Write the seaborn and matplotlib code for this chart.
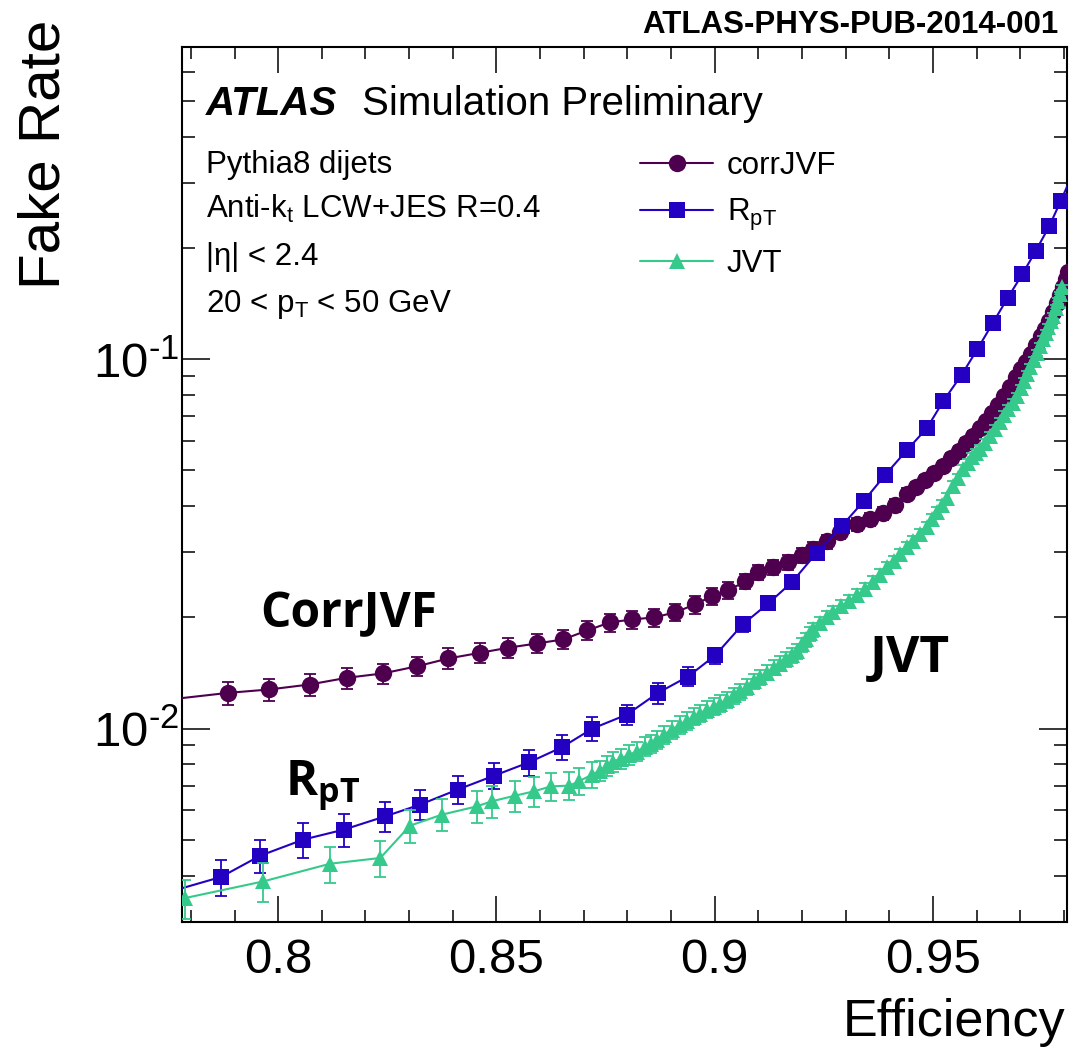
import matplotlib
matplotlib.use("Agg")
import matplotlib.pyplot as plt
from matplotlib.ticker import (FixedLocator, FixedFormatter, MultipleLocator,
                               LogLocator, NullFormatter, FuncFormatter)
import numpy as np
import pandas as pd
import seaborn as sns

# corrJVF working points
corr_eff = [0.7755, 0.7885, 0.7980, 0.8072, 0.8157, 0.8240, 0.8319, 0.8390, 0.8463, 0.8527,
            0.8593, 0.8653, 0.8708, 0.8760, 0.8811, 0.8861, 0.8909, 0.8955, 0.8993, 0.9031,
            0.9070, 0.9100, 0.9134, 0.9168, 0.9200, 0.9226, 0.9257, 0.9287, 0.9325, 0.9356,
            0.9386, 0.9413, 0.9441, 0.9461, 0.9482, 0.9503, 0.9523, 0.9541, 0.9560, 0.9576,
            0.9592, 0.9608, 0.9622, 0.9635, 0.9649, 0.9663, 0.9677, 0.9690, 0.9702, 0.9713,
            0.9725, 0.9736, 0.9748, 0.9757, 0.9766, 0.9775, 0.9784, 0.9791, 0.9798, 0.9805,
            0.9809]
corr_fake = [0.01200, 0.01249, 0.01276, 0.01316, 0.01372, 0.01410, 0.01475, 0.01548, 0.01604, 0.01655,
             0.01700, 0.01743, 0.01843, 0.01938, 0.01974, 0.01999, 0.02062, 0.02168, 0.02279, 0.02366,
             0.02502, 0.02647, 0.02731, 0.02818, 0.02943, 0.03056, 0.03212, 0.03398, 0.03571, 0.03685,
             0.03826, 0.04021, 0.04306, 0.04499, 0.04700, 0.04911, 0.05129, 0.05391, 0.05632, 0.05920,
             0.06184, 0.06501, 0.06792, 0.07140, 0.07504, 0.07937, 0.08397, 0.08938, 0.09395, 0.09815,
             0.1032, 0.1091, 0.1154, 0.1206, 0.1268, 0.1341, 0.1418, 0.1491, 0.1567, 0.1647,
             0.1721]
corr_err = [0.0009, 0.0009, 0.0009, 0.0009, 0.0009, 0.0009, 0.0009, 0.0010, 0.0010, 0.0010,
            0.0010, 0.0010, 0.0011, 0.0011, 0.0011, 0.0011, 0.0011, 0.0012, 0.0012, 0.0012,
            0.0012, 0.0013, 0.0013, 0.0013, 0.0013, 0.0014, 0.0014, 0.0014, 0.0015, 0.0015,
            0.0015, 0.0016, 0.0016, 0.0016, 0.0017, 0.0017, 0.0017, 0.0018, 0.0018, 0.0018,
            0.0019, 0.0019, 0.0020, 0.0020, 0.0021, 0.0021, 0.0022, 0.0023, 0.0023, 0.0024,
            0.0025, 0.0025, 0.0026, 0.0027, 0.0027, 0.0028, 0.0029, 0.0030, 0.0030, 0.0031,
            0.0032]

# R_pT working points
rpt_eff = [0.7753, 0.7869, 0.7959, 0.8057, 0.8150, 0.8245, 0.8325, 0.8411, 0.8495, 0.8575,
           0.8650, 0.8720, 0.8799, 0.8870, 0.8939, 0.9001, 0.9064, 0.9123, 0.9177, 0.9234,
           0.9291, 0.9341, 0.9390, 0.9440, 0.9486, 0.9524, 0.9566, 0.9602, 0.9637, 0.9671,
           0.9705, 0.9736, 0.9767, 0.9793, 0.9828]
rpt_fake = [0.00362, 0.003964, 0.004527, 0.005003, 0.005324, 0.005784, 0.006223, 0.006834, 0.007457, 0.008104,
            0.008899, 0.01000, 0.01091, 0.01249, 0.01383, 0.01577, 0.01913, 0.02182, 0.02491, 0.02993,
            0.03533, 0.04123, 0.04850, 0.05667, 0.06501, 0.07709, 0.09078, 0.1065, 0.1252, 0.1463,
            0.1700, 0.1968, 0.2297, 0.2685, 0.3334]
rpt_err = [0.00043, 0.00044, 0.00047, 0.00055, 0.00055, 0.00054, 0.00058, 0.00059, 0.00060, 0.00066,
           0.00069, 0.00073, 0.00068, 0.00081, 0.00083, 0.00080, 0.0009, 0.0009, 0.0010, 0.0010,
           0.0011, 0.0012, 0.0013, 0.0014, 0.0015, 0.0016, 0.0018, 0.0020, 0.0022, 0.0024,
           0.0026, 0.0028, 0.0030, 0.0032, 0.0034]

# JVT working points
jvt_eff = [0.7787, 0.7966, 0.8119, 0.8234, 0.8302, 0.8375, 0.8455, 0.8489, 0.8543, 0.8586,
           0.8625, 0.8667, 0.8689, 0.8719, 0.8737, 0.8753, 0.8767, 0.8785, 0.8804, 0.8822,
           0.8840, 0.8854, 0.8868, 0.8884, 0.8902, 0.8921, 0.8937, 0.8953, 0.8966, 0.8982,
           0.8998, 0.9012, 0.9028, 0.9044, 0.9058, 0.9074, 0.9090, 0.9104, 0.9120, 0.9136,
           0.9150, 0.9163, 0.9177, 0.9189, 0.9200, 0.9209, 0.9218, 0.9225, 0.9241, 0.9257,
           0.9271, 0.9289, 0.9308, 0.9326, 0.9344, 0.9362, 0.9379, 0.9395, 0.9411, 0.9424,
           0.9440, 0.9454, 0.9470, 0.9486, 0.9498, 0.9509, 0.9521, 0.9532, 0.9546, 0.9557,
           0.9569, 0.9580, 0.9589, 0.9598, 0.9608, 0.9619, 0.9630, 0.9642, 0.9653, 0.9662,
           0.9672, 0.9683, 0.9692, 0.9701, 0.9708, 0.9715, 0.9722, 0.9731, 0.9738, 0.9745,
           0.9752, 0.9759, 0.9763, 0.9770, 0.9775, 0.9782, 0.9786, 0.9791, 0.9795]
jvt_fake = [0.003477, 0.003857, 0.004306, 0.004463, 0.005459, 0.005846, 0.006156, 0.006353, 0.006582, 0.006761,
            0.006975, 0.007005, 0.007196, 0.007504, 0.007695, 0.007937, 0.008139, 0.008293, 0.008502, 0.008665,
            0.008938, 0.009107, 0.009338, 0.009632, 0.009938, 0.01025, 0.01051, 0.01078, 0.01098, 0.01126,
            0.01147, 0.01169, 0.01198, 0.01229, 0.01260, 0.01299, 0.01341, 0.01375, 0.01418, 0.01463,
            0.01500, 0.01538, 0.01577, 0.01617, 0.01689, 0.01743, 0.01809, 0.01855, 0.01926, 0.01999,
            0.02062, 0.02141, 0.02209, 0.02293, 0.02381, 0.02487, 0.02598, 0.02731, 0.02836, 0.02961,
            0.03094, 0.03212, 0.03356, 0.03505, 0.03685, 0.03850, 0.04021, 0.04200, 0.04527, 0.04759,
            0.05034, 0.05226, 0.05425, 0.05563, 0.05703, 0.05920, 0.06184, 0.06461, 0.06750, 0.07050,
            0.07320, 0.07599, 0.07937, 0.08345, 0.08717, 0.09107, 0.09513, 0.09938, 0.1038, 0.1084,
            0.1133, 0.1176, 0.1221, 0.1268, 0.1308, 0.1375, 0.1437, 0.1500, 0.1567]
jvt_err = [0.00042, 0.00046, 0.00048, 0.00049, 0.00057, 0.00058, 0.00060, 0.00062, 0.00063, 0.00062,
           0.00061, 0.00060, 0.00060, 0.00060, 0.00048, 0.00049, 0.00050, 0.00050, 0.00051, 0.00051,
           0.00052, 0.00052, 0.00053, 0.00054, 0.00055, 0.00056, 0.00057, 0.00058, 0.00058, 0.00059,
           0.00060, 0.00060, 0.00061, 0.00062, 0.00063, 0.00064, 0.00065, 0.00066, 0.00067, 0.00068,
           0.00069, 0.00070, 0.00071, 0.00072, 0.00074, 0.00076, 0.00078, 0.00080, 0.00082, 0.00084,
           0.00086, 0.00088, 0.00090, 0.00092, 0.00094, 0.00096, 0.00098, 0.0010, 0.0010, 0.0011,
           0.0011, 0.0011, 0.0012, 0.0012, 0.0012, 0.0013, 0.0013, 0.0013, 0.0014, 0.0014,
           0.0014, 0.0015, 0.0015, 0.0015, 0.0016, 0.0016, 0.0016, 0.0017, 0.0017, 0.0017,
           0.0018, 0.0018, 0.0018, 0.0019, 0.0019, 0.0019, 0.0020, 0.0020, 0.0020, 0.0021,
           0.0021, 0.0021, 0.0022, 0.0022, 0.0022, 0.0023, 0.0023, 0.0023, 0.0024]

series_labels = ["corrJVF", r"R$_{\rm pT}$", "JVT"]
x_ticks = [0.8, 0.85, 0.9, 0.95]
x_tick_labels = ["0.8", "0.85", "0.9", "0.95"]

sns.set_style("ticks")
plt.rcParams["font.family"] = ["Liberation Sans", "DejaVu Sans"]
plt.rcParams["mathtext.fontset"] = "custom"
plt.rcParams["mathtext.rm"] = "Liberation Sans"
plt.rcParams["mathtext.it"] = "Liberation Sans:italic"
plt.rcParams["mathtext.bf"] = "Open Sans:bold"
for key in ["text.color", "axes.labelcolor", "xtick.color", "ytick.color", "axes.edgecolor"]:
    plt.rcParams[key] = "black"

fig = plt.figure(figsize=(10.78, 10.47), dpi=100)
ax = fig.add_axes([0.16855, 0.11968, 0.8212, 0.83543])

purple = "#4e004f"
blue = "#2400c2"
green = "#36c98c"

series = [
    (series_labels[0], corr_eff, corr_fake, corr_err, "o", purple, 12.5),
    (series_labels[1], rpt_eff, rpt_fake, rpt_err, "s", blue, 11.5),
    (series_labels[2], jvt_eff, jvt_fake, jvt_err, "^", green, 11.0),
]

z = 2
for label, eff, fake, err, mk, col, ms in series:
    ax.errorbar(eff, fake, yerr=err, fmt="none", ecolor=col, elinewidth=1.3,
                capsize=4.0, capthick=1.3, zorder=z)
    df = pd.DataFrame({"eff": eff, "fake": fake})
    sns.lineplot(data=df, x="eff", y="fake", ax=ax, color=col, marker=mk,
                 markersize=ms, markeredgewidth=0, linewidth=1.5, label=label,
                 sort=False, estimator=None, zorder=z + 1)
    z += 2

ax.set_yscale("log")
ax.set_xlim(0.7779, 0.9807)
ax.set_ylim(0.003, 0.7)


def decade_label(v, pos):
    exp = int(np.round(np.log10(v)))
    sign = r"\text{-}" if exp < 0 else ""
    return r"$\mathdefault{10^{%s%d}}$" % (sign, abs(exp))


ax.xaxis.set_major_locator(FixedLocator(x_ticks))
ax.xaxis.set_major_formatter(FixedFormatter(x_tick_labels))
ax.xaxis.set_minor_locator(MultipleLocator(0.01))
ax.yaxis.set_major_locator(LogLocator(base=10))
ax.yaxis.set_major_formatter(FuncFormatter(decade_label))
ax.yaxis.set_minor_locator(LogLocator(base=10, subs=[2, 3, 4, 5, 6, 7, 8, 9]))
ax.yaxis.set_minor_formatter(NullFormatter())

ax.tick_params(axis="both", which="both", direction="in", top=True, right=True,
               width=1.1, color="black")
ax.tick_params(axis="x", which="major", length=18.5, labelsize=35.5, pad=12)
ax.tick_params(axis="x", which="minor", length=8.5)
ax.tick_params(axis="y", which="major", length=20, labelsize=35.5, pad=2)
ax.tick_params(axis="y", which="minor", length=9.5)
for s in ax.spines.values():
    s.set_linewidth(1.5)
    s.set_color("black")

ax.set_xlabel("Efficiency", fontsize=37.5, loc="right")
ax.xaxis.label.set_verticalalignment("baseline")
ax.xaxis.set_label_coords(0.998, -0.1305)
ax.set_ylabel("Fake Rate", fontsize=42, loc="top")
ax.yaxis.label.set_verticalalignment("baseline")
ax.yaxis.set_label_coords(-0.1375, 1.031)

# legend
handles, labels = ax.get_legend_handles_labels()
ax.legend(handles, labels, loc="upper left", bbox_to_anchor=(0.5177, 0.881),
          frameon=False, fontsize=22.5, handlelength=2.35, handletextpad=0.42,
          labelspacing=0.5, borderpad=0, borderaxespad=0)

# labels inside the frame
ax.text(0.0274, 0.9223, "ATLAS", transform=ax.transAxes, fontsize=29,
        fontweight="bold", fontstyle="italic", va="baseline")
ax.text(0.2036, 0.9223, "Simulation Preliminary", transform=ax.transAxes,
        fontsize=29, va="baseline")
info = ["Pythia8 dijets", r"Anti-k$_{\rm t}$ LCW+JES R=0.4",
        "|η| < 2.4", r"20 < p$_{\rm T}$ < 50 GeV"]
for txt, yy in zip(info, [0.8563, 0.8045, 0.7508, 0.6970]):
    ax.text(0.0274, yy, txt, transform=ax.transAxes, fontsize=22.5, va="baseline")

ax.text(0.0884, 0.337, "CorrJVF", transform=ax.transAxes, fontsize=34.5,
        fontfamily="Open Sans", fontweight="bold", va="baseline")
ax.text(0.7774, 0.2855, "JVT", transform=ax.transAxes, fontsize=37,
        fontfamily="Open Sans", fontweight="bold", va="baseline")
ax.text(0.1167, 0.145, r"R$_{\mathbf{pT}}$", transform=ax.transAxes, fontsize=35,
        fontfamily="Open Sans", fontweight="bold", va="baseline")

fig.text(0.9815, 1 - 33 / 1047, "ATLAS-PHYS-PUB-2014-001", ha="right",
         va="baseline", fontsize=22.5, fontweight="bold")

fig.savefig("out.png", dpi=100, facecolor="white")
